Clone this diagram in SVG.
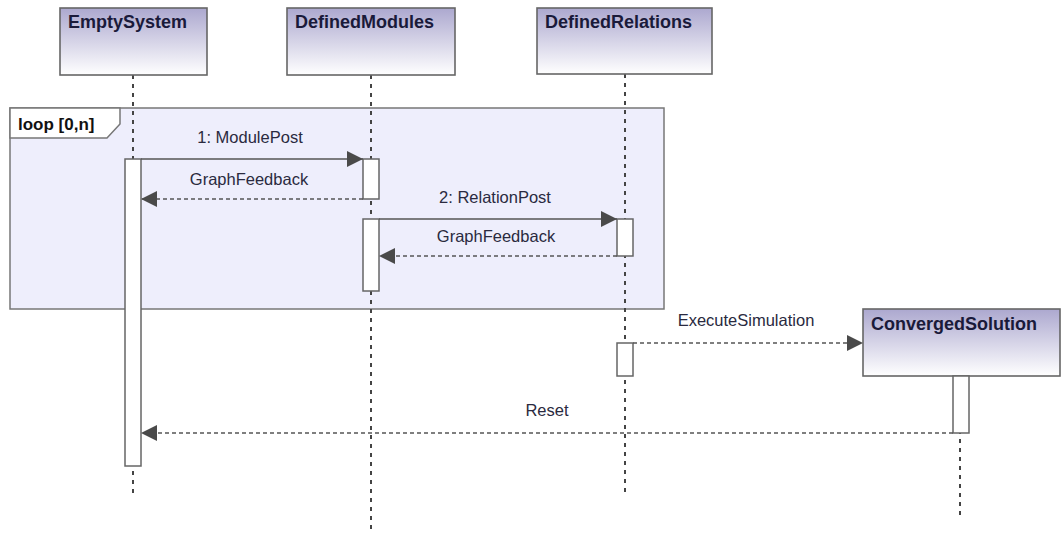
<svg xmlns="http://www.w3.org/2000/svg" width="1063" height="533" viewBox="0 0 1063 533">
  <style>
    .head { stroke: #666; stroke-width: 1.6; fill: url(#headFill); }
    .title { font-family: "Liberation Sans", Arial, sans-serif; font-weight: bold; font-size: 18px; fill: #1a1a3a; }
    .life { stroke: #444; stroke-width: 2; stroke-dasharray: 4 5; fill: none; }
    .act { fill: #fff; stroke: #666; stroke-width: 1.5; }
    .msg { stroke: #555; stroke-width: 1.5; fill: none; }
    .reply { stroke: #555; stroke-width: 1.5; stroke-dasharray: 4 3; fill: none; }
    .label { font-family: "Liberation Sans", Arial, sans-serif; font-size: 16.5px; fill: #2a2a40; text-anchor: middle; }
    .frame { fill: #eeeefc; stroke: #777; stroke-width: 1.5; }
    .tab { fill: #fff; stroke: #777; stroke-width: 1.5; }
    .tabtext { font-family: "Liberation Sans", Arial, sans-serif; font-weight: bold; font-size: 17px; fill: #111; }
  </style>
  <defs>
    <linearGradient id="headFill" x1="0" y1="0" x2="0" y2="1">
      <stop offset="0" stop-color="#aca8cf"/>
      <stop offset="1" stop-color="#ffffff"/>
    </linearGradient>
    <marker id="arrow" viewBox="0 0 16 16" refX="16" refY="8" markerWidth="16" markerHeight="16" markerUnits="userSpaceOnUse" orient="auto">
      <path d="M0,0 L16,8 L0,16 Z" fill="#4a4a4a"/>
    </marker>
  </defs>

  <rect width="1063" height="533" fill="#fff"/>

  <!-- combined fragment: loop -->
  <g id="loop">
    <rect class="frame" x="10" y="108" width="654" height="201"/>
    <path class="tab" d="M10,108 L120,108 L120,124 L107,138 L10,138 Z"/>
    <text class="tabtext" x="18" y="130">loop [0,n]</text>
  </g>

  <!-- lifelines -->
  <g id="lifelines">
    <line class="life" x1="133" y1="75" x2="133" y2="497"/>
    <line class="life" x1="371" y1="75" x2="371" y2="530"/>
    <line class="life" x1="625" y1="74" x2="625" y2="497"/>
    <line class="life" x1="960" y1="376" x2="960" y2="517"/>
  </g>

  <!-- participants -->
  <g id="EmptySystem">
    <rect class="head" x="60" y="8" width="147" height="67"/>
    <text class="title" x="68" y="28">EmptySystem</text>
  </g>
  <g id="DefinedModules">
    <rect class="head" x="287" y="8" width="168" height="67"/>
    <text class="title" x="295" y="28">DefinedModules</text>
  </g>
  <g id="DefinedRelations">
    <rect class="head" x="537" y="8" width="175" height="66"/>
    <text class="title" x="545" y="28">DefinedRelations</text>
  </g>
  <g id="ConvergedSolution">
    <rect class="head" x="863" y="309" width="197" height="67"/>
    <text class="title" x="871" y="330">ConvergedSolution</text>
  </g>

  <!-- activations -->
  <g id="activations">
    <rect class="act" x="125" y="159" width="16" height="307"/>
    <rect class="act" x="363" y="159" width="16" height="40"/>
    <rect class="act" x="363" y="219" width="16" height="72"/>
    <rect class="act" x="617" y="219" width="16" height="37"/>
    <rect class="act" x="617" y="343" width="16" height="33"/>
    <rect class="act" x="953" y="376" width="16" height="57"/>
  </g>

  <!-- messages -->
  <g id="connectors">
    <line class="msg" x1="141" y1="159" x2="363" y2="159" marker-end="url(#arrow)"/>
    <line class="reply" x1="363" y1="199" x2="141" y2="199" marker-end="url(#arrow)"/>
    <line class="msg" x1="379" y1="219" x2="617" y2="219" marker-end="url(#arrow)"/>
    <line class="reply" x1="617" y1="256" x2="379" y2="256" marker-end="url(#arrow)"/>
    <line class="reply" x1="633" y1="343" x2="863" y2="343" marker-end="url(#arrow)"/>
    <line class="reply" x1="953" y1="433" x2="141" y2="433" marker-end="url(#arrow)"/>
  </g>

  <g id="labels">
    <text class="label" x="250" y="143">1: ModulePost</text>
    <text class="label" x="249" y="185">GraphFeedback</text>
    <text class="label" x="495" y="203">2: RelationPost</text>
    <text class="label" x="496" y="242">GraphFeedback</text>
    <text class="label" x="746" y="326">ExecuteSimulation</text>
    <text class="label" x="547" y="416">Reset</text>
  </g>
</svg>
